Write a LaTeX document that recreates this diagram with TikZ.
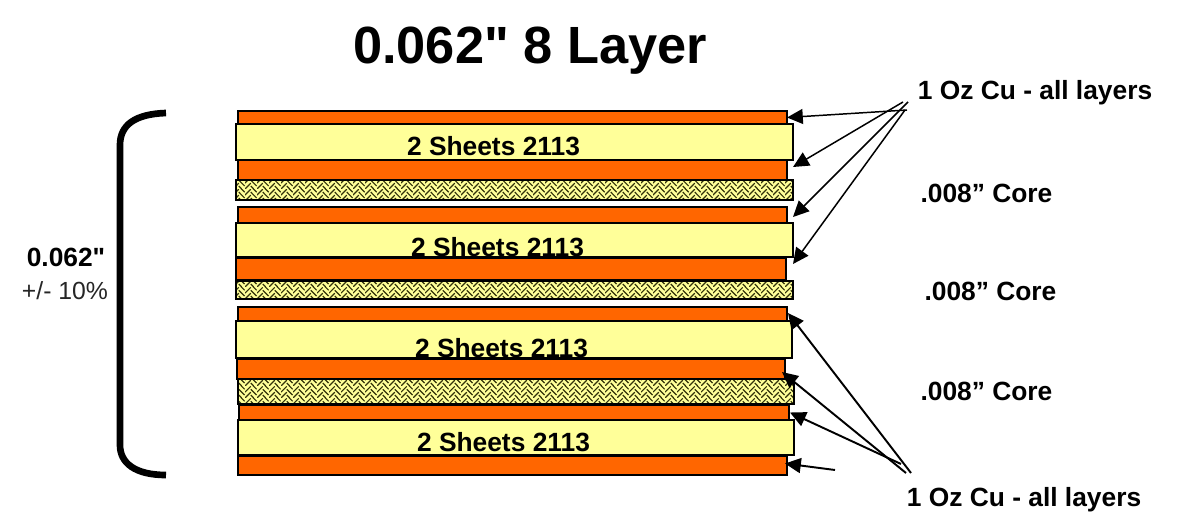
\documentclass[tikz,border=0pt]{standalone}
\usepackage{fontspec}
\setmainfont[Ligatures=TeXOff]{Liberation Sans}
\usetikzlibrary{arrows.meta, patterns, calc}
\tikzset{>={Triangle[length=9pt,width=8.5pt]}}
\definecolor{mycopper}{RGB}{255, 102, 0}
\definecolor{myprepreg}{RGB}{255, 255, 153}
\definecolor{myweave}{RGB}{50, 50, 10}
\pgfdeclarepatternformonly{myherringbone}{\pgfqpoint{0pt}{0pt}}{\pgfqpoint{7pt}{7pt}}{\pgfqpoint{7pt}{7pt}}{
	\pgfsetlinewidth{0.7pt}
	\pgfpathmoveto{\pgfqpoint{0pt}{0pt}}\pgfpathlineto{\pgfqpoint{3.5pt}{3.5pt}}
	\pgfpathmoveto{\pgfqpoint{0pt}{3.5pt}}\pgfpathlineto{\pgfqpoint{3.5pt}{7pt}}
	\pgfpathmoveto{\pgfqpoint{3.5pt}{5.25pt}}\pgfpathlineto{\pgfqpoint{7pt}{1.75pt}}
	\pgfpathmoveto{\pgfqpoint{3.5pt}{8.75pt}}\pgfpathlineto{\pgfqpoint{7pt}{5.25pt}}
	\pgfpathmoveto{\pgfqpoint{3.5pt}{1.75pt}}\pgfpathlineto{\pgfqpoint{5.25pt}{0pt}}
	\pgfusepath{stroke}
}
\tikzset{
	layer/.style = {draw = black, line width = 0.75pt, inner sep = 0, outer sep = 0, anchor = north west},
	cu/.style = {layer, fill = mycopper},
	prepreg/.style = {layer, fill = myprepreg},
	core/.style = {layer, preaction = {fill = myprepreg}, pattern = myherringbone, pattern color = myweave},
	lbl/.style = {font = \bfseries\fontsize{15}{18}\selectfont, inner sep = 0},
	pointer/.style = {->, line width = 0.85pt}
}

\begin{document}
\begin{tikzpicture}[x = 0.02cm, y = -0.02cm]
\useasboundingbox (0, 0) rectangle (1200, 520);

\foreach \n / \s / \xa / \ya / \xb / \yb in {
	cuA/cu/238/111/787/124, ppA/prepreg/236/124/793/160, cuB/cu/238/160/787/180, coreA/core/236/180/793/200,
	cuC/cu/238/207/787/223, ppB/prepreg/236/223/793/257, cuD/cu/236/258/786/280, coreB/core/236/281/793/299,
	cuE/cu/238/307/787/321, ppC/prepreg/236/321/792/358, cuF/cu/237/359/785/379, coreC/core/238/379/794/404,
	cuG/cu/239/405/789/420, ppD/prepreg/238/420/794/455, cuH/cu/238/456/787/475}{
	\node[\s, minimum width = {(\xb-\xa)*0.02cm}, minimum height = {(\yb-\ya)*0.02cm}] (\n) at (\xa, \ya) {};
}

\node[lbl] (sheetA) at (493.5, 146) {2 Sheets 2113};
\node[lbl] (sheetB) at (497.5, 247) {2 Sheets 2113};
\node[lbl] (sheetC) at (501.5, 348) {2 Sheets 2113};
\node[lbl] (sheetD) at (503.5, 442) {2 Sheets 2113};

\node[font = \bfseries\fontsize{29.8}{34}\selectfont, inner sep = 0] (title) at (530, 51) {0.062" 8 Layer};
\node[lbl] (topcu) at (1035, 93) {1 Oz Cu - all layers};
\node[lbl] (botcu) at (1024, 500) {1 Oz Cu - all layers};
\node[lbl] (coretxtA) at (986.5, 193) {.008” Core};
\node[lbl] (coretxtB) at (990.5, 291) {.008” Core};
\node[lbl] (coretxtC) at (986.5, 391) {.008” Core};
\node[lbl] (thick) at (66, 257) {0.062"};
\node[font = \fontsize{14.1}{17}\selectfont, text = black!85, inner sep = 0] (tol) at (65, 291) {+/- 10\%};

\draw[line width = 3.8pt] (166, 113) .. controls (135, 114) and (120, 125) .. (120, 145)
-- (120, 445) .. controls (120, 463) and (135, 475) .. (166, 475);

\coordinate (tailA) at (907, 110);
\coordinate (tailB) at (903, 102);
\coordinate (tailC) at (908, 102);
\coordinate (tailD) at (905, 110);
\coordinate (tailE) at (911, 473);
\coordinate (tailF) at (906, 473);
\coordinate (tailG) at (901, 464);
\coordinate (tailH) at (835, 470);

\draw[pointer] (tailA) -- (cuA.east);
\draw[pointer] (tailB) -- ($(cuB.east) + (6, -3)$);
\draw[pointer] (tailC) -- ($(cuC.east) + (6, 2)$);
\draw[pointer] (tailD) -- ($(cuD.east) + (7, -5)$);
\draw[pointer, line width = 1.1pt] (tailE) -- ($(cuE.east) + (1, -1)$);
\draw[pointer, line width = 1.1pt] (tailF) -- ($(cuF.east) + (-3, 3)$);
\draw[pointer, line width = 1.1pt] (tailG) -- ($(cuG.east) + (1, 0)$);
\draw[pointer, line width = 1.1pt] (tailH) -- ($(cuH.east) + (-2, -2)$);
\end{tikzpicture}
\end{document}
